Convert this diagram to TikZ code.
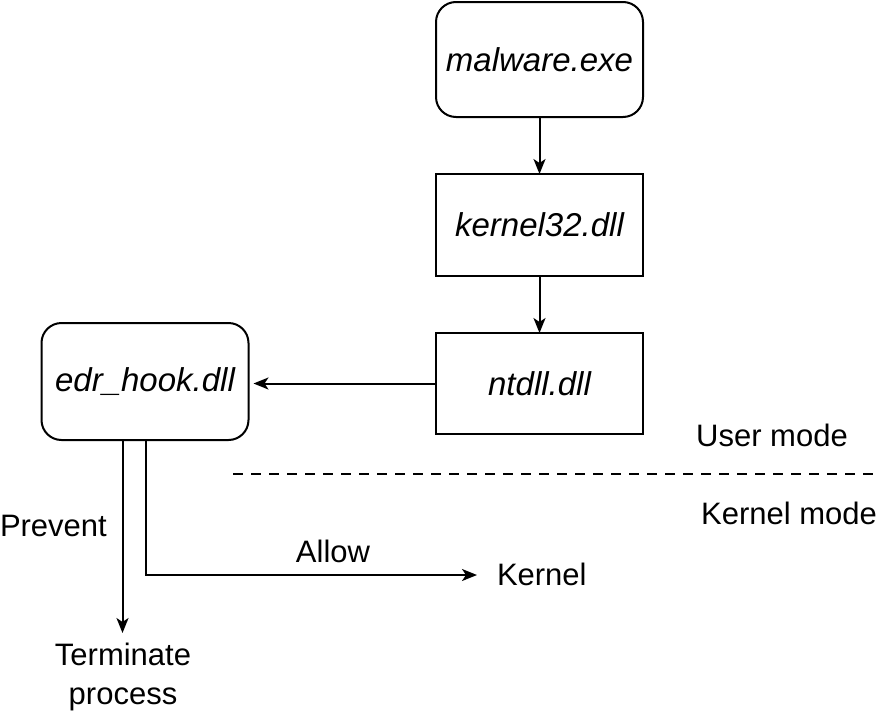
\documentclass[tikz,border=0pt]{standalone}
\usepackage{fontspec}
\setmainfont{Liberation Sans}
\usetikzlibrary{arrows.meta}
\begin{document}
\begin{tikzpicture}[x=1pt,y=-1pt,
  every node/.style={inner sep=0pt, outer sep=0pt},
  rbox/.style={draw, line width=2pt, rounded corners=20pt, minimum width=207pt, font=\fontsize{33}{38}\selectfont\itshape},
  sbox/.style={draw, line width=2pt, minimum width=207pt, font=\fontsize{33}{38}\selectfont\itshape},
  lbl/.style={font=\fontsize{31}{39}\selectfont, align=center},
  conn/.style={line width=2pt, -{Stealth[length=15pt,width=12pt,inset=4pt]}}
]
\useasboundingbox (0,0) rectangle (879,718);
\node[rbox, minimum height=115pt] (mal) at (539.5,59.5) {malware.exe};
\node[sbox, minimum height=102pt] (k32) at (539.5,225) {kernel32.dll};
\node[sbox, minimum height=101pt] (nt) at (539.5,383.5) {ntdll.dll};
\node[rbox, minimum height=117pt] (edr) at (145,381.5) {edr\_hook.dll};
\node[lbl] (um) at (772,435) {User mode};
\node[lbl] (km) at (789,513) {Kernel mode};
\node[lbl, anchor=west] (prev) at (0,526) {Prevent};
\node[lbl] (allow) at (333,551) {Allow};
\node[lbl, anchor=west] (kern) at (497,574) {Kernel};
\node[lbl] (term) at (123,677) {Terminate\\process};
\coordinate (dl) at (233,474);
\coordinate (dr) at (879,474);
\coordinate (pv) at (122.5,440);
\coordinate (pt) at (122.5,633);
\coordinate (av) at (146,440);
\coordinate (ac) at (146,575);
\coordinate (at2) at (477,575);
\draw[conn] (mal) -- (k32);
\draw[conn] (k32) -- (nt);
\draw[conn, shorten >=5pt] (nt.west) -- (nt.west -| edr.east);
\draw[conn] (pv) -- (pt);
\draw[conn] (av) -- (ac) -- (at2);
\draw[line width=2pt, dash pattern=on 10pt off 8pt] (dl) -- (dr);
\end{tikzpicture}
\end{document}
